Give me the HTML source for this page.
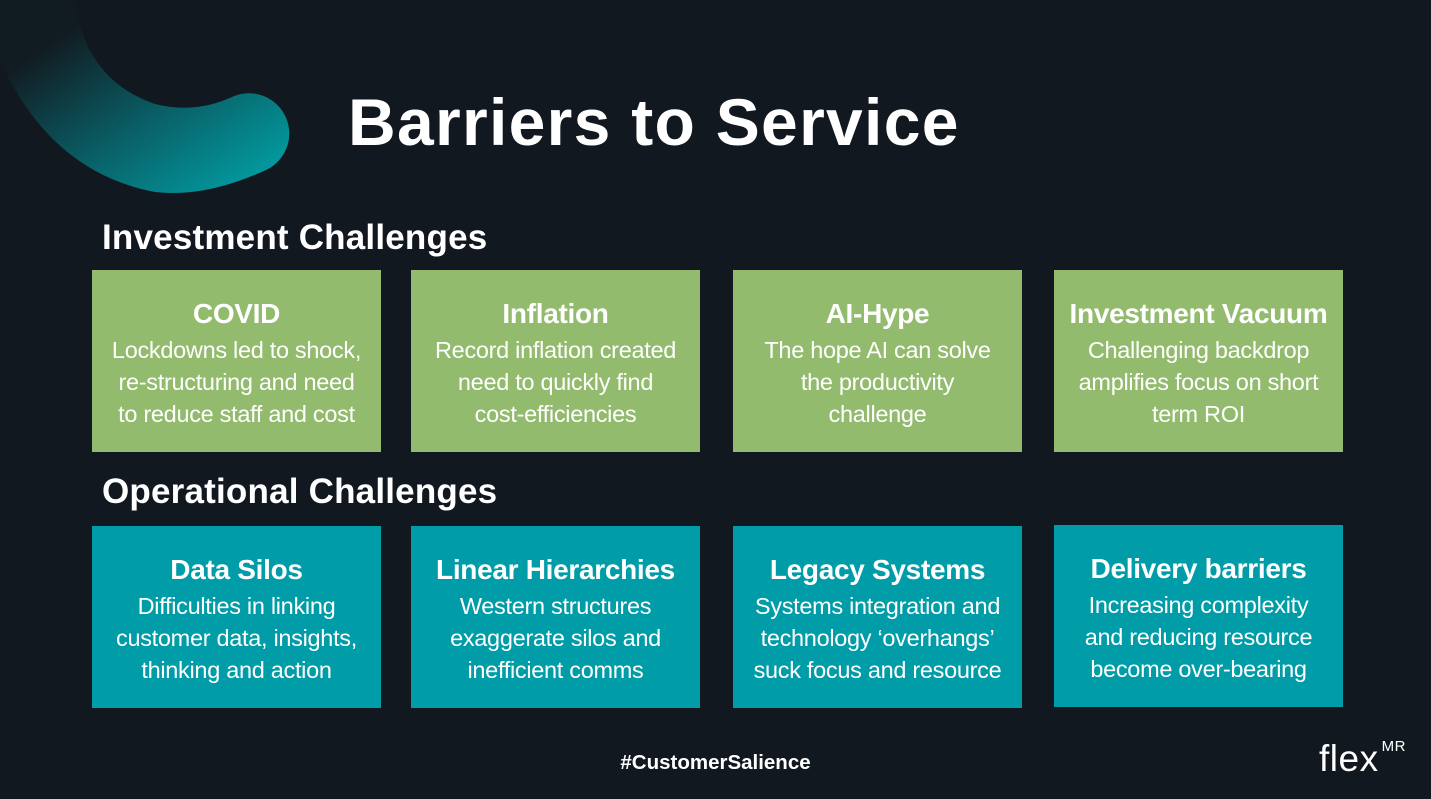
<!DOCTYPE html>
<html><head><meta charset="utf-8"><style>
body{margin:0;width:1431px;height:799px;background:#111820;position:relative;overflow:hidden;font-family:"Liberation Sans",sans-serif;color:#fff}
.t{position:absolute;white-space:nowrap}
.box{position:absolute;width:289px;height:182px;text-align:center;box-sizing:border-box;padding-top:28px}
.g{background:#93bb6e}.b{background:#009ca8}
.box h3{margin:0 0 4px;font-size:28px;font-weight:bold;line-height:32px;letter-spacing:-0.3px}
.box p{margin:0;font-size:23.5px;line-height:32px;letter-spacing:-0.3px}
</style></head><body>
<svg width="320" height="200" style="position:absolute;left:0;top:0">
<defs><linearGradient id="gr" x1="0" y1="0" x2="1" y2="1">
<stop offset="0.2" stop-color="#111c22"/><stop offset="0.55" stop-color="#0a5c63"/><stop offset="1" stop-color="#00a9ae"/></linearGradient></defs>
<path d="M0 0 L75 0 Q85 80 155 104 Q195 114 232 97 A40 40 0 0 1 266 170 Q205 198 155 192 Q50 172 0 60 Z" fill="url(#gr)"/>
</svg>
<div class="t" style="left:348px;top:84px;font-size:66px;font-weight:bold;letter-spacing:1.3px">Barriers to Service</div>
<div class="t" style="left:102px;top:218px;font-size:35px;font-weight:bold;letter-spacing:0.2px">Investment Challenges</div>
<div class="t" style="left:102px;top:472px;font-size:35px;font-weight:bold;letter-spacing:0.2px">Operational Challenges</div>
<div class="box g" style="left:92px;top:270px"><h3>COVID</h3><p>Lockdowns led to shock,<br>re-structuring and need<br>to reduce staff and cost</p></div>
<div class="box g" style="left:411px;top:270px"><h3>Inflation</h3><p>Record inflation created<br>need to quickly find<br>cost-efficiencies</p></div>
<div class="box g" style="left:733px;top:270px"><h3>AI-Hype</h3><p>The hope AI can solve<br>the productivity<br>challenge</p></div>
<div class="box g" style="left:1054px;top:270px"><h3>Investment Vacuum</h3><p>Challenging backdrop<br>amplifies focus on short<br>term ROI</p></div>
<div class="box b" style="left:92px;top:526px"><h3>Data Silos</h3><p>Difficulties in linking<br>customer data, insights,<br>thinking and action</p></div>
<div class="box b" style="left:411px;top:526px"><h3>Linear Hierarchies</h3><p>Western structures<br>exaggerate silos and<br>inefficient comms</p></div>
<div class="box b" style="left:733px;top:526px"><h3>Legacy Systems</h3><p>Systems integration and<br>technology ‘overhangs’<br>suck focus and resource</p></div>
<div class="box b" style="left:1054px;top:525px"><h3>Delivery barriers</h3><p>Increasing complexity<br>and reducing resource<br>become over-bearing</p></div>
<div class="t" style="left:0;width:1431px;text-align:center;top:751px;font-size:20.5px;font-weight:bold">#CustomerSalience</div>
<div class="t" style="left:1319px;top:738px;font-size:37px;letter-spacing:0.5px">flex<sup style="font-size:15px;vertical-align:0;position:relative;top:-20px;margin-left:3px">MR</sup></div>
</body></html>
